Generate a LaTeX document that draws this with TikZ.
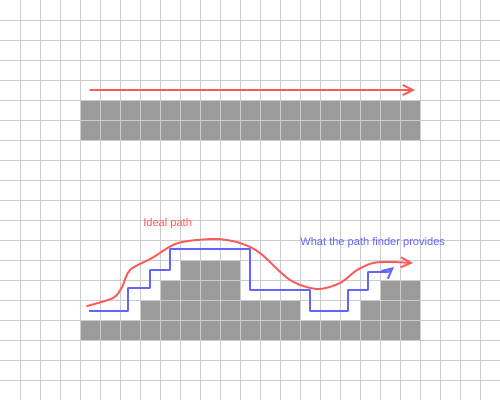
\documentclass[tikz,border=0pt]{standalone}
\usepackage{fontspec}
\setmainfont{Liberation Sans}
\usetikzlibrary{arrows.meta}
\definecolor{idealred}{RGB}{255,90,90}
\definecolor{finderblue}{RGB}{100,100,255}
\definecolor{wallgray}{RGB}{155,155,155}
\definecolor{linegray}{RGB}{204,204,204}
\tikzset{
  wall/.style={fill=wallgray},
  gridline/.style={draw=linegray,line width=0.5pt},
  idealpath/.style={draw=idealred,line width=1.1pt,line cap=round,line join=round},
  finderpath/.style={draw=finderblue,line width=1.1pt,line join=round},
}

\begin{document}
\begin{tikzpicture}[x=0.4cm,y=-0.4cm,font=\fontsize{6.3}{7}\selectfont,>={Straight Barb[length=2mm,width=2mm]}]
  \useasboundingbox (0,0) rectangle (25,20);
  \fill[wall] (4,5) rectangle (21,7);
  \fill[wall] (4,17) |- (7,16) |- (8,15) |- (9,14) |- (12,13) |- (15,15) |- (18,16) |- (19,15) |- (21,14) -- (21,17) -- cycle;
  \foreach \i in {1,...,24} \draw[gridline] (\i,0) -- (\i,20);
  \foreach \j in {1,...,19} \draw[gridline] (0,\j) -- (25,\j);
  \draw[idealpath,->] (4.5,4.5) -- (20.75,4.5);
  \draw[idealpath,->] plot[smooth] coordinates {(4.35,15.3) (5.65,14.9) (6.1,14.35) (6.5,13.5) (7.6,12.9) (8.9,12.15) (10.75,11.95) (12,12.15) (13,12.65) (14.5,14) (15.85,14.45) (17,14.15) (17.85,13.5) (18.65,13.15) (19.5,13.1) (20.65,13.15)};
  \draw[finderpath,->] (4.45,15.55) -| (6.4,14.4) -| (7.5,13.5) -| (8.5,12.45) -| (12.5,14.5) -| (15.5,15.55) -| (17.4,14.5) -| (18.4,13.6) -- (19.4,13.6) -- (19.7,13.35);
  \node[text=idealred,anchor=west,inner sep=0pt] (ideal) at (7.15,11.2) {Ideal path};
  \node[text=finderblue,anchor=west,inner sep=0pt] (finder) at (15,12.15) {What the path finder provides};
\end{tikzpicture}
\end{document}
